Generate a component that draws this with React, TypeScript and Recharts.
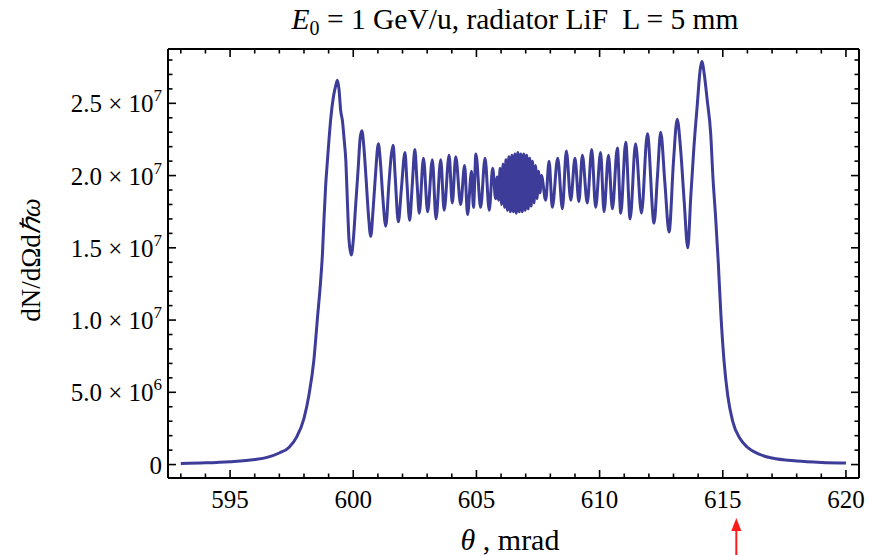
import { LineChart, Line, XAxis, YAxis, ReferenceLine } from 'recharts';

// theta in mrad
const theta = [
  593.0, 594.0, 595.0, 596.0, 596.5, 597.0, 597.4, 597.7, 598.0, 598.2, 598.4, 598.55, 598.68, 598.75,
  598.81, 598.88, 598.95, 599.02, 599.09, 599.2, 599.3, 599.36, 599.42, 599.49, 599.56, 599.63, 599.7,
  599.76, 599.83, 599.92, 600.0, 600.1, 600.2, 600.28, 600.35, 600.43, 600.52, 600.62, 600.71, 600.8,
  600.9, 601.02, 601.1, 601.2, 601.32, 601.45, 601.55, 601.62, 601.7, 601.83, 601.95, 602.1, 602.18,
  602.29, 602.4, 602.5, 602.59, 602.68, 602.85, 603.02, 603.21, 603.36, 603.55, 603.69, 603.89, 604.02,
  604.16, 604.36, 604.52, 604.64, 604.8, 604.88, 604.98, 605.17, 605.35, 605.52, 605.66, 605.78,
  605.84, 605.9, 605.96, 606.02, 606.08, 606.14, 606.2, 606.26, 606.32, 606.38, 606.44, 606.5, 606.56,
  606.62, 606.68, 606.74, 606.8, 606.86, 606.92, 606.98, 607.04, 607.1, 607.16, 607.22, 607.28, 607.34,
  607.4, 607.46, 607.52, 607.58, 607.64,
  607.81, 607.95, 608.08, 608.3, 608.49, 608.65, 608.83, 609.0, 609.16, 609.3, 609.5, 609.68, 609.84,
  610.04, 610.18, 610.36, 610.52, 610.72, 610.86, 611.06, 611.24, 611.46, 611.7, 611.94, 612.21, 612.35,
  612.48, 612.65, 612.82, 613.0, 613.15, 613.29, 613.43, 613.58, 613.7, 613.83, 613.97, 614.08, 614.15,
  614.25, 614.37, 614.51, 614.6, 614.71, 614.82, 614.92, 615.05, 615.2, 615.4, 615.7, 616.0, 616.5,
  617.0, 618.0, 619.0, 620.0,
];

// dN/dΩdħω in units of 10^6
const intensity = [
  0.08, 0.12, 0.2, 0.35, 0.5, 0.8, 1.2, 1.9, 3.2, 4.8, 7.2, 10.2, 12.8, 14.6,
  16.9, 19.3, 21.0, 22.6, 24.0, 25.5, 26.3, 26.6, 26.0, 24.5, 23.8, 22.5, 21.0,
  18.3, 15.5, 14.5, 15.5, 18.0, 20.5, 22.6, 23.1, 22.0, 19.8, 17.2, 15.8, 17.5,
  20.0, 22.2, 21.0, 18.5, 16.5, 19.5, 21.5, 22.1, 20.0, 16.8, 19.0, 21.6, 19.5,
  16.9, 19.5, 21.8, 19.5, 17.4, 21.2, 17.5, 21.1, 17.0, 21.1, 17.6, 21.4, 18.1,
  21.3, 18.0, 20.7, 17.3, 20.3, 17.8, 21.5, 17.8, 21.2, 17.6, 20.5, 18.4,
  19.9, 18.3, 20.5, 18.0, 20.8, 17.8, 21.1, 17.6, 21.3, 17.5, 21.4, 17.5, 21.5,
  17.4, 21.6, 17.5, 21.5, 17.5, 21.5, 17.6, 21.4, 17.7, 21.2, 17.9, 21.0, 18.1,
  20.7, 18.4, 20.3, 18.8, 20.0,
  18.3, 21.0, 17.8, 21.2, 17.7, 21.7, 18.3, 21.2, 18.2, 21.4, 18.1, 21.8, 17.8,
  21.6, 17.5, 21.4, 17.7, 21.9, 17.4, 22.3, 17.0, 22.2, 17.4, 22.9, 16.7, 20.0,
  23.0, 19.5, 16.1, 21.0, 23.9, 21.8, 18.3, 15.0, 18.5, 22.0, 25.0, 27.3, 27.9,
  27.0, 25.2, 22.9, 19.9, 17.1, 13.9, 10.5, 7.2, 4.8, 3.0, 1.8, 1.2, 0.7,
  0.45, 0.25, 0.15, 0.1,
];

const xTicks = [
  593, 594, 595, 596, 597, 598, 599, 600, 601, 602, 603, 604, 605, 606, 607,
  608, 609, 610, 611, 612, 613, 614, 615, 616, 617, 618, 619, 620,
];
const yTicks = [
  0, 1, 2, 3, 4, 5, 6, 7, 8, 9, 10, 11, 12, 13, 14, 15, 16, 17, 18, 19, 20,
  21, 22, 23, 24, 25, 26, 27, 28,
];
// red arrow under the axis, at this theta
const arrowTheta = 615.55;

const data = theta.map((t, i) => ({ theta: t, intensity: intensity[i] }));

const FONT = '"Liberation Serif", "Times New Roman", serif';
const X_DOMAIN = [592.48, 620.53];
const Y_DOMAIN = [-0.93, 28.76];

function BottomTick({ x, y, payload }: any) {
  const major = payload.value % 5 === 0;
  return (
    <g>
      <line x1={x} y1={y} x2={x} y2={y - (major ? 8 : 4.5)} stroke="#000" strokeWidth={1.6} />
      {major && (
        <text x={x} y={y + 30} textAnchor="middle" fontFamily={FONT} fontSize={25} fill="#000">
          {payload.value}
        </text>
      )}
    </g>
  );
}

function TopTick({ x, y, payload }: any) {
  const major = payload.value % 5 === 0;
  return <line x1={x} y1={y} x2={x} y2={y + (major ? 8 : 4.5)} stroke="#000" strokeWidth={1.6} />;
}

function LeftTick({ x, y, payload }: any) {
  const v = payload.value;
  const major = v % 5 === 0;
  let label = null;
  if (major) {
    if (v === 0) {
      label = (
        <text x={x - 6} y={y + 9} textAnchor="end" fontFamily={FONT} fontSize={25} fill="#000">0</text>
      );
    } else {
      const exp = v >= 10 ? 7 : 6;
      const mant = (v / Math.pow(10, exp - 6)).toFixed(1);
      label = (
        <text x={x - 6} y={y + 9} textAnchor="end" fontFamily={FONT} fontSize={25} fill="#000">
          {mant} × 10<tspan dy={-11} fontSize={17}>{exp}</tspan>
        </text>
      );
    }
  }
  return (
    <g>
      <line x1={x} y1={y} x2={x + (major ? 8 : 4.5)} y2={y} stroke="#000" strokeWidth={1.6} />
      {label}
    </g>
  );
}

function RightTick({ x, y, payload }: any) {
  const major = payload.value % 5 === 0;
  return <line x1={x} y1={y} x2={x - (major ? 8 : 4.5)} y2={y} stroke="#000" strokeWidth={1.6} />;
}

function ArrowShape({ x1, y1, x2, y2 }: any) {
  return (
    <g>
      <line x1={x1} y1={y1} x2={x2} y2={y2 + 10} stroke="#ff1a1a" strokeWidth={2} />
      <polygon points={`${x2},${y2} ${x2 - 5},${y2 + 13} ${x2 + 5},${y2 + 13}`} fill="#ff1a1a" />
    </g>
  );
}

export default function App() {
  const frame = { stroke: '#000', strokeWidth: 2 };
  // plot area: x 168..859, y 49..478
  return (
    <div style={{ position: 'absolute', left: 0, top: 0, width: 871, height: 555, background: '#fff' }}>
      <LineChart width={871} height={555} data={data} margin={{ top: 39, right: 2, bottom: 47, left: 108 }}>
        <XAxis
          xAxisId="b"
          dataKey="theta"
          type="number"
          domain={X_DOMAIN}
          allowDataOverflow
          ticks={xTicks}
          interval={0}
          height={30}
          tickSize={0}
          tickMargin={0}
          tickLine={false}
          tick={<BottomTick />}
          axisLine={frame}
        />
        <XAxis
          xAxisId="t"
          orientation="top"
          dataKey="theta"
          type="number"
          domain={X_DOMAIN}
          allowDataOverflow
          ticks={xTicks}
          interval={0}
          height={10}
          tickSize={0}
          tickMargin={0}
          tickLine={false}
          tick={<TopTick />}
          axisLine={frame}
        />
        <YAxis
          yAxisId="l"
          type="number"
          domain={Y_DOMAIN}
          allowDataOverflow
          ticks={yTicks}
          interval={0}
          width={60}
          tickSize={0}
          tickMargin={0}
          tickLine={false}
          tick={<LeftTick />}
          axisLine={frame}
        />
        <YAxis
          yAxisId="r"
          orientation="right"
          type="number"
          domain={Y_DOMAIN}
          allowDataOverflow
          ticks={yTicks}
          interval={0}
          width={10}
          tickSize={0}
          tickMargin={0}
          tickLine={false}
          tick={<RightTick />}
          axisLine={frame}
        />
        <Line
          xAxisId="b"
          yAxisId="l"
          type="monotone"
          dataKey="intensity"
          stroke="#3d3d99"
          strokeWidth={3}
          dot={false}
          isAnimationActive={false}
        />
        <ReferenceLine
          xAxisId="b"
          yAxisId="l"
          segment={[{ x: arrowTheta, y: -6.4 }, { x: arrowTheta, y: -3.7 }]}
          ifOverflow="visible"
          shape={ArrowShape}
        />
      </LineChart>
      <svg width={871} height={555} style={{ position: 'absolute', left: 0, top: 0, pointerEvents: 'none' }}>
        <text x={515} y={29} textAnchor="middle" fontFamily={FONT} fontSize={29.5} fill="#000">
          <tspan fontStyle="italic">E</tspan>
          <tspan dy={6} fontSize={20}>0</tspan>
          <tspan dy={-6}> = 1 GeV/u, radiator LiF</tspan>
          <tspan dx={14}>L = 5 mm</tspan>
        </text>
        <text x={510} y={550} textAnchor="middle" fontFamily={FONT} fontSize={30} fill="#000">
          <tspan fontStyle="italic">θ</tspan> , mrad
        </text>
        <text transform="translate(40,260) rotate(-90)" textAnchor="middle" fontFamily={FONT} fontSize={27} fill="#000">
          dN/dΩd<tspan fontStyle="italic">ℏω</tspan>
        </text>
      </svg>
    </div>
  );
}
